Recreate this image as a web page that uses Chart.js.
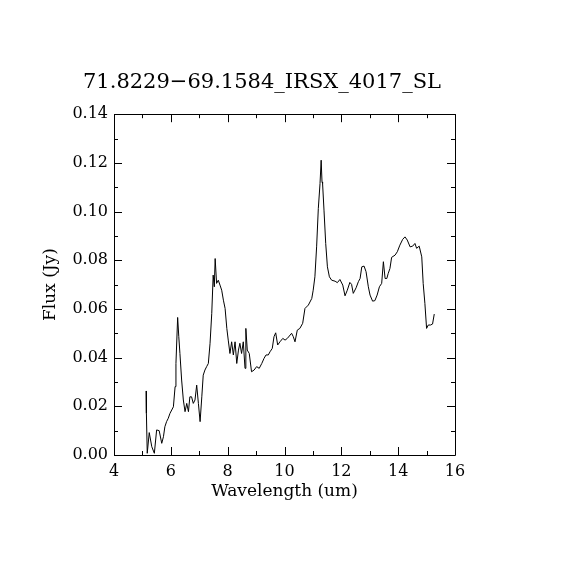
<!DOCTYPE html>
<html>
<head>
<meta charset="utf-8">
<script src="https://cdn.jsdelivr.net/npm/chart.js@4"></script>
<style>
  html, body { margin: 0; padding: 0; background: #fff; }
  #wrap { width: 570px; height: 570px; }
</style>
</head>
<body>
<div id="wrap"><canvas id="myChart" width="570" height="570"></canvas></div>
<script>
var wavelength = [5.13, 5.14, 5.17, 5.24, 5.33, 5.42, 5.50, 5.59, 5.68, 5.74, 5.79, 5.85, 5.91, 5.97, 6.09, 6.15, 6.18, 6.24, 6.28, 6.32,
  6.38, 6.44, 6.50, 6.56, 6.62, 6.67, 6.73, 6.79, 6.85, 6.91, 6.97, 7.03, 7.09, 7.14, 7.20, 7.26, 7.32, 7.38, 7.44, 7.49,
  7.53, 7.56, 7.61, 7.67, 7.73, 7.79, 7.85, 7.91, 7.97, 8.02, 8.08, 8.14, 8.20, 8.26, 8.32, 8.38, 8.43, 8.49, 8.55, 8.61,
  8.64, 8.69, 8.76, 8.84, 8.93, 9.02, 9.11, 9.20, 9.28, 9.35, 9.43, 9.49, 9.57, 9.63, 9.69, 9.76, 9.84, 9.94, 10.02, 10.10,
  10.25, 10.31, 10.37, 10.45, 10.54, 10.64, 10.72, 10.84, 10.96, 11.01, 11.07, 11.13, 11.19, 11.25, 11.29, 11.32, 11.34, 11.39, 11.45, 11.51,
  11.58, 11.66, 11.78, 11.86, 11.95, 12.05, 12.13, 12.21, 12.30, 12.36, 12.42, 12.52, 12.60, 12.66, 12.72, 12.80, 12.87, 12.95, 13.01, 13.10,
  13.18, 13.26, 13.34, 13.42, 13.48, 13.54, 13.60, 13.65, 13.71, 13.77, 13.89, 13.97, 14.06, 14.16, 14.24, 14.32, 14.42, 14.51, 14.59, 14.65,
  14.74, 14.83, 14.88, 14.94, 15.00, 15.06, 15.14, 15.21, 15.27];

var flux = [0.0263, 0.0171, 0.0007, 0.0092, 0.0034, 0.0007, 0.0103, 0.0100, 0.0048, 0.0075, 0.0116, 0.0137, 0.0151, 0.0171, 0.0198, 0.0281, 0.0376, 0.0565, 0.0486, 0.0417,
  0.0308, 0.0226, 0.0178, 0.0212, 0.0178, 0.0239, 0.0239, 0.0212, 0.0226, 0.0287, 0.0212, 0.0137, 0.0239, 0.0328, 0.0349, 0.0363, 0.0376, 0.0459, 0.0582, 0.0739,
  0.0691, 0.0807, 0.0705, 0.0718, 0.0698, 0.0677, 0.0636, 0.0602, 0.0520, 0.0472, 0.0417, 0.0465, 0.0411, 0.0465, 0.0376, 0.0431, 0.0459, 0.0417, 0.0465, 0.0356,
  0.0520, 0.0431, 0.0417, 0.0342, 0.0349, 0.0363, 0.0356, 0.0376, 0.0397, 0.0411, 0.0411, 0.0424, 0.0438, 0.0486, 0.0502, 0.0452, 0.0465, 0.0479, 0.0472, 0.0479,
  0.0500, 0.0486, 0.0465, 0.0513, 0.0520, 0.0541, 0.0602, 0.0616, 0.0643, 0.0677, 0.0732, 0.0855, 0.1013, 0.1115, 0.1211, 0.1122, 0.1115, 0.1006, 0.0869, 0.0773,
  0.0732, 0.0718, 0.0714, 0.0708, 0.0721, 0.0698, 0.0654, 0.0677, 0.0709, 0.0701, 0.0664, 0.0687, 0.0712, 0.0725, 0.0773, 0.0776, 0.0753, 0.0691, 0.0657, 0.0632,
  0.0634, 0.0657, 0.0691, 0.0705, 0.0794, 0.0725, 0.0725, 0.0746, 0.0766, 0.0812, 0.0821, 0.0835, 0.0862, 0.0886, 0.0896, 0.0883, 0.0855, 0.0858, 0.0869, 0.0849,
  0.0858, 0.0814, 0.0705, 0.0623, 0.0520, 0.0534, 0.0534, 0.0538, 0.0579];

var xTicks = [4, 6, 8, 10, 12, 14, 16];
var yTicks = [0.00, 0.02, 0.04, 0.06, 0.08, 0.10, 0.12, 0.14];
var xMinor = [5, 7, 9, 11, 13, 15];
var yMinor = [0.01, 0.03, 0.05, 0.07, 0.09, 0.11, 0.13];

var points = wavelength.map(function (w, i) { return { x: w, y: flux[i] }; });

var serif = "'DejaVu Serif', 'Liberation Serif', serif";

// IDL style frame: box round the plot, ticks pointing inward on all four sides
var frameTicks = {
  id: 'frameTicks',
  afterDraw: function (chart) {
    var c = chart.ctx, a = chart.chartArea;
    var xs = chart.scales.x, ys = chart.scales.y;
    c.save();
    c.strokeStyle = '#000';
    c.lineWidth = 1;
    c.beginPath();
    c.rect(Math.round(a.left) + 0.5, Math.round(a.top) + 0.5, Math.round(a.right - a.left), Math.round(a.bottom - a.top));
    function xt(v, len) {
      var p = Math.round(xs.getPixelForValue(v)) + 0.5;
      c.moveTo(p, a.bottom); c.lineTo(p, a.bottom - len);
      c.moveTo(p, a.top); c.lineTo(p, a.top + len);
    }
    function yt(v, len) {
      var p = Math.round(ys.getPixelForValue(v)) + 0.5;
      c.moveTo(a.left, p); c.lineTo(a.left + len, p);
      c.moveTo(a.right, p); c.lineTo(a.right - len, p);
    }
    xTicks.forEach(function (v) { xt(v, 8); });
    xMinor.forEach(function (v) { xt(v, 4); });
    yTicks.forEach(function (v) { yt(v, 8); });
    yMinor.forEach(function (v) { yt(v, 4); });
    c.stroke();
    c.restore();
  }
};

var ctx = document.getElementById('myChart');

var myChart = new Chart(ctx, {
  type: 'scatter',
  data: {
    datasets: [{
      data: points,
      showLine: true,
      borderColor: '#000',
      borderWidth: 1,
      pointRadius: 0,
      tension: 0
    }]
  },
  options: {
    responsive: false,
    animation: false,
    devicePixelRatio: 1,
    layout: { padding: { left: 40, right: 86, top: 0, bottom: 68 } },
    plugins: {
      legend: { display: false },
      tooltip: { enabled: false },
      title: {
        display: true,
        text: '71.8229\u221269.1584_IRSX_4017_SL',
        color: '#000',
        font: { family: serif, size: 21, weight: 'normal' },
        padding: { top: 70, bottom: 19 }
      }
    },
    scales: {
      x: {
        type: 'linear',
        min: 4,
        max: 16,
        afterBuildTicks: function (s) { s.ticks = xTicks.map(function (v) { return { value: v }; }); },
        afterFit: function (s) { s.height = 47; },
        grid: { display: false, drawTicks: false },
        border: { display: false },
        ticks: {
          color: '#000',
          padding: 7,
          maxRotation: 0,
          font: { family: serif, size: 16 },
          callback: function (v) { return String(v); }
        },
        title: {
          display: true,
          text: 'Wavelength (um)',
          color: '#000',
          font: { family: serif, size: 17 },
          padding: { top: 2, bottom: 0 }
        }
      },
      y: {
        type: 'linear',
        min: 0,
        max: 0.14,
        afterBuildTicks: function (s) { s.ticks = yTicks.map(function (v) { return { value: v }; }); },
        afterFit: function (s) { s.width = 74; },
        grid: { display: false, drawTicks: false },
        border: { display: false },
        ticks: {
          color: '#000',
          padding: 6,
          font: { family: serif, size: 16 },
          callback: function (v) { return v.toFixed(2); }
        },
        title: {
          display: true,
          text: 'Flux (Jy)',
          color: '#000',
          font: { family: serif, size: 17 },
          padding: { top: 0, bottom: 0 }
        }
      },
      // empty right-hand box, only there to keep the title centred like the original
      yRight: {
        type: 'linear',
        position: 'right',
        min: 0,
        max: 0.14,
        afterFit: function (s) { s.width = 29; },
        grid: { display: false, drawTicks: false },
        border: { display: false },
        ticks: { display: false }
      }
    }
  },
  plugins: [frameTicks]
});
</script>
</body>
</html>
